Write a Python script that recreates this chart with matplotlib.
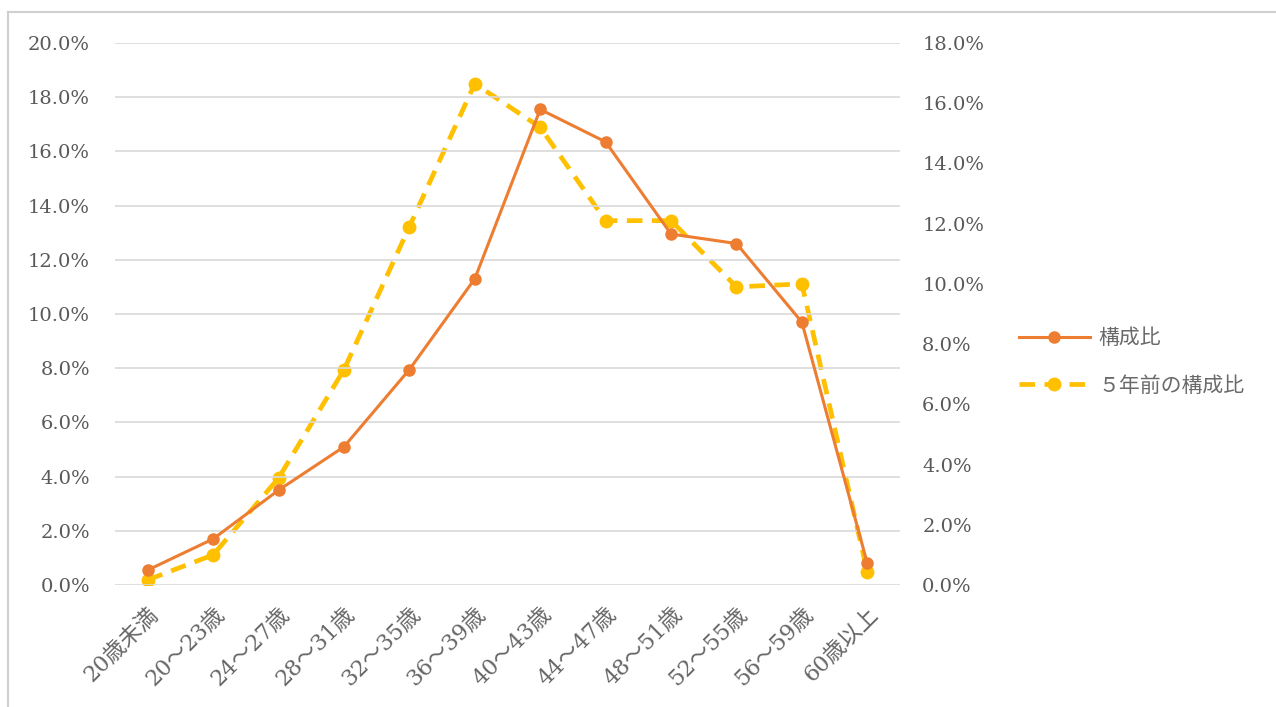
import matplotlib.pyplot as plt
from matplotlib.lines import Line2D
from matplotlib.ticker import FuncFormatter, MultipleLocator

ORANGE = "#ED7D31"
YELLOW = "#FFC000"
TEXT_COLOR = "#595959"
GRID_COLOR = "#D9D9D9"

# data
age_groups = ["20歳未満", "20～23歳", "24～27歳", "28～31歳", "32～35歳", "36～39歳",
              "40～43歳", "44～47歳", "48～51歳", "52～55歳", "56～59歳", "60歳以上"]
ratio_now = [0.55, 1.7, 3.5, 5.1, 7.95, 11.3, 17.55, 16.35, 12.95, 12.6, 9.7, 0.8]
ratio_5y_ago = [0.17, 1.0, 3.55, 7.15, 11.9, 16.65, 15.2, 12.1, 12.1, 9.9, 10.0, 0.43]

label_now = "構成比"
label_5y = "５年前の構成比"

SERIF = ["DejaVu Serif", "Noto Sans CJK JP"]
SANS = ["Noto Sans CJK JP", "DejaVu Sans"]

fig = plt.figure(figsize=(12.76, 7.07), dpi=100)

# screenshot frame lines (top and left)
fig.add_artist(Line2D([8 / 1276, 1.0], [1 - 12 / 707, 1 - 12 / 707],
                      transform=fig.transFigure, color="#D0D0D0", lw=1.5))
fig.add_artist(Line2D([8 / 1276, 8 / 1276], [0.0, 1 - 12 / 707],
                      transform=fig.transFigure, color="#D0D0D0", lw=1.5))

ax = fig.add_axes([115 / 1276, 1 - 585 / 707, 785 / 1276, 542 / 707])
ax2 = ax.twinx()

x = list(range(len(age_groups)))

line1, = ax.plot(x, ratio_now, color=ORANGE, lw=2.2, marker="o", markersize=8,
                 zorder=3, label=label_now)
line2, = ax2.plot(x, ratio_5y_ago, color=YELLOW, lw=3.4, marker="o", markersize=9,
                  dashes=(3.3, 2), zorder=2, label=label_5y)
ax.set_zorder(ax2.get_zorder() + 1)
ax.patch.set_visible(False)

ax.set_xlim(-0.5, len(age_groups) - 0.5)
ax.set_ylim(0, 20)
ax2.set_ylim(0, 18)
ax.yaxis.set_major_locator(MultipleLocator(2))
ax2.yaxis.set_major_locator(MultipleLocator(2))
pct = FuncFormatter(lambda v, p: f"{v:.1f}%")
ax.yaxis.set_major_formatter(pct)
ax2.yaxis.set_major_formatter(pct)

ax.grid(axis="y", color=GRID_COLOR, lw=1.2)
ax.set_axisbelow(True)

for a in (ax, ax2):
    for s in a.spines.values():
        s.set_visible(False)

ax.tick_params(axis="y", length=0, pad=18, labelsize=14, labelcolor=TEXT_COLOR)
ax2.tick_params(axis="y", length=0, pad=16, labelsize=14, labelcolor=TEXT_COLOR)
ax.tick_params(axis="x", length=0, pad=13)

for lab in ax.get_yticklabels() + ax2.get_yticklabels():
    lab.set_family(SERIF)

ax.set_xticks(x)
ax.set_xticklabels(age_groups, rotation=45, ha="right", rotation_mode="anchor",
                   fontsize=16, color="#666666", family=SERIF)

fig.legend(handles=[line1, line2], loc="center left",
           bbox_to_anchor=(1000 / 1276, 1 - 362 / 707), frameon=False,
           handlelength=3.4, handletextpad=0.4, labelspacing=1.2, numpoints=1,
           prop={"family": SANS, "size": 15}, labelcolor="#6A6A6A")

fig.savefig("out.png", dpi=100, facecolor="white")
